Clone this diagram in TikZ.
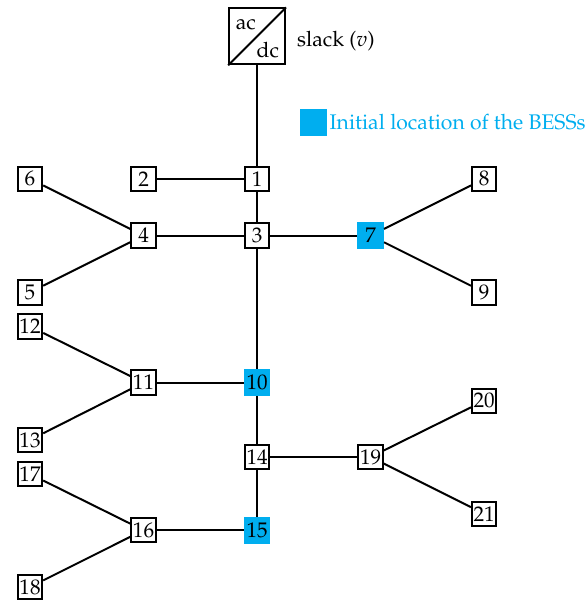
\documentclass[tikz,border=0pt]{standalone}
\usepackage[T1]{fontenc}
\usepackage{mathpazo}
\definecolor{bess}{HTML}{00AEEF}
\tikzset{bus/.style={draw,line width=1pt,fill=white,minimum size=12.2pt,inner sep=0pt}}
\tikzset{bessbus/.style={draw=bess,line width=1pt,fill=bess,minimum size=12.4pt,inner sep=0pt}}
\tikzset{line/.style={line width=1pt}}
\begin{document}
\begin{tikzpicture}[font=\fontsize{10.6}{12.7}\selectfont]
            \useasboundingbox (-0.529,-0.247) rectangle (9.78,10.34);
            % grid nodes
            \node [draw,line width=1pt,minimum size=28pt,inner sep=0pt] (slack) at (4,9.7) {};
            \node [bus] (n1) at (4,7.19) {1};
            \node [bus] (n2) at (2,7.19) {2};
            \node [bus] (n3) at (4,6.19) {3};
            \node [bus] (n4) at (2,6.19) {4};
            \node [bus] (n5) at (0,5.19) {5};
            \node [bus] (n6) at (0,7.19) {6};
            \node [bessbus] (n7) at (6,6.19) {7};
            \node [bus] (n8) at (8,7.19) {8};
            \node [bus] (n9) at (8,5.19) {9};
            \node [bessbus] (n10) at (4,3.6) {10};
            \node [bus] (n11) at (2,3.6) {11};
            \node [bus] (n12) at (0,4.59) {12};
            \node [bus] (n13) at (0,2.59) {13};
            \node [bus] (n14) at (4,2.29) {14};
            \node [bessbus] (n15) at (4,1) {15};
            \node [bus] (n16) at (2,1) {16};
            \node [bus] (n17) at (0,1.99) {17};
            \node [bus] (n18) at (0,0) {18};
            \node [bus] (n19) at (6,2.29) {19};
            \node [bus] (n20) at (8,3.28) {20};
            \node [bus] (n21) at (8,1.29) {21};
            % converter
            \draw [line] (slack.south west) -- (slack.north east);
            \node (ac) at (3.8,9.9) {ac};
            \node (dc) at (4.19,9.46) {dc};
            \node [anchor=west,inner sep=0pt] (slacktext) at (4.7,9.62) {slack ($v$)};
            % legend
            \node [fill=bess,minimum size=13.5pt,inner sep=0pt] (legendbox) at (5,8.185) {};
            \node [anchor=west,inner sep=0pt,text=bess] (legendtext) at (5.27,8.185) {Initial location of the BESSs};
            % lines
            \draw [line] (slack) -- (n1);
            \draw [line] (n1) -- (n2);
            \draw [line] (n1) -- (n3);
            \draw [line] (n3) -- (n4);
            \draw [line] (n4) -- (n5);
            \draw [line] (n4) -- (n6);
            \draw [line] (n3) -- (n7);
            \draw [line] (n7) -- (n8);
            \draw [line] (n7) -- (n9);
            \draw [line] (n3) -- (n10);
            \draw [line] (n10) -- (n11);
            \draw [line] (n11) -- (n12);
            \draw [line] (n11) -- (n13);
            \draw [line] (n10) -- (n14);
            \draw [line] (n14) -- (n15);
            \draw [line] (n15) -- (n16);
            \draw [line] (n16) -- (n17);
            \draw [line] (n16) -- (n18);
            \draw [line] (n14) -- (n19);
            \draw [line] (n19) -- (n20);
            \draw [line] (n19) -- (n21);
        \end{tikzpicture}
\end{document}
